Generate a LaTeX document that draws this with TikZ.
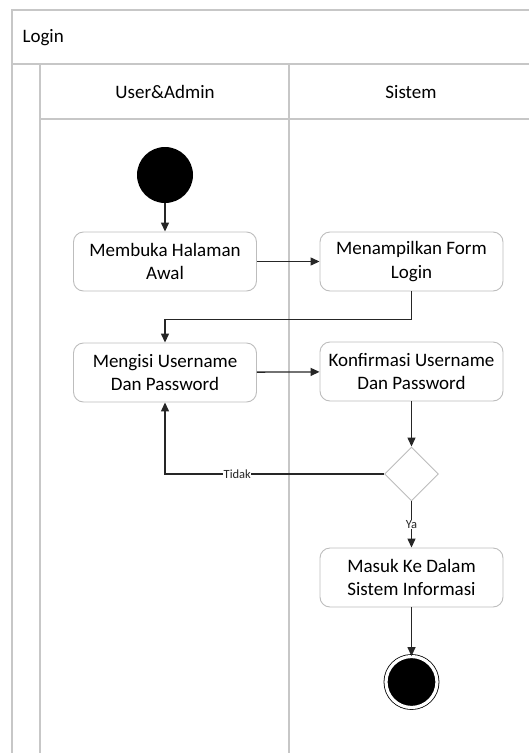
\documentclass[tikz,border=0pt]{standalone}
\usepackage{fontspec}
\setmainfont{Carlito}
\usetikzlibrary{arrows.meta,shapes.geometric}
\definecolor{lanegray}{rgb}{0.78,0.78,0.78}
\definecolor{boxgray}{rgb}{0.74,0.74,0.74}

\begin{document}
\begin{tikzpicture}[x=1pt, y=-1pt, >={Triangle[length=9pt,width=8pt]},
    lane/.style={lanegray, line width=1.6pt},
    activity/.style={draw=boxgray, line width=0.9pt, rounded corners=10pt, fill=white,
        minimum width=183pt, minimum height=59pt, align=center, inner sep=0pt,
        font=\fontsize{19}{23.5}\selectfont},
    flow/.style={->, line width=1.3pt, black!85},
    guard/.style={font=\fontsize{12.5}{14}\selectfont, fill=white, inner sep=0.5pt}]
    \useasboundingbox (0,0) rectangle (529,753);

    % Lanes
    \draw[lane] (12,753) -- (12,10) -- (529,10);
    \draw[lane] (12,64) -- (529,64);
    \draw[lane] (40,753) -- (40,64);
    \draw[lane] (40,119) -- (529,119);
    \draw[lane] (289,753) -- (289,64);
    \node[anchor=west, font=\fontsize{19}{23}\selectfont] (title) at (19,38) {Login};
    \node[font=\fontsize{19}{23}\selectfont] (userlane) at (165,92) {User\&Admin};
    \node[font=\fontsize{19}{23}\selectfont] (syslane) at (411,92) {Sistem};

    % Activities
    \node[circle, fill=black, minimum size=56pt, inner sep=0pt] (start) at (165,175) {};
    \node[activity] (awal) at (165,261.5) {Membuka Halaman\\Awal};
    \node[activity] (form) at (411.5,261.5) {Menampilkan Form\\Login};
    \node[activity] (isi) at (165,372.5) {Mengisi Username\\Dan Password};
    \node[activity] (konf) at (411.5,371.5) {Konfirmasi Username\\Dan Password};
    \node[diamond, draw=boxgray, line width=0.9pt, fill=white, minimum size=54pt, inner sep=0pt] (cek) at (411.5,474) {};
    \node[activity] (masuk) at (411.5,577.5) {Masuk Ke Dalam\\Sistem Informasi};
    \node[circle, draw=black, fill=black, line width=0.8pt, double=white, double distance=3.2pt,
        minimum size=51pt, inner sep=0pt] (stop) at (411.5,682) {};

    % Flows
    \draw[flow] (start) -- (awal);
    \draw[flow] (awal) -- (form);
    \draw[flow] (form.south) -- ++(0,28) -| (isi.north);
    \draw[flow] (isi) -- (konf);
    \draw[flow] (konf) -- (cek);
    \draw[flow] (cek.west) -| node[guard, pos=0.335] {Tidak} (isi.south);
    \draw[flow] (cek) -- node[guard, pos=0.5] {Ya} (masuk);
    \draw[flow] (masuk) -- (stop);
\end{tikzpicture}
\end{document}
